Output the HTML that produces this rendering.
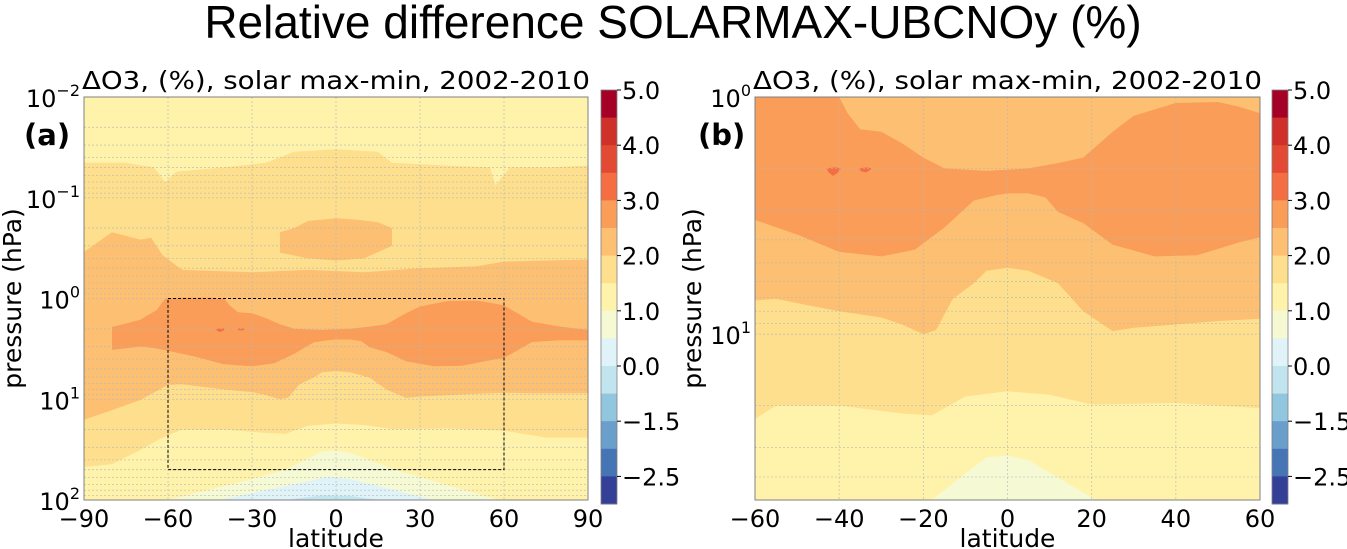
<!DOCTYPE html>
<html><head><meta charset="utf-8">
<style>
html,body{margin:0;padding:0;background:#fff;}
svg{display:block;}
text{font-family:"DejaVu Sans","Liberation Sans",sans-serif;fill:#000;}
</style></head>
<body>
<svg id="fig" width="1347" height="549" viewBox="0 0 1347 549" xmlns="http://www.w3.org/2000/svg">
<text x="673" y="38" text-anchor="middle" style="font-family:'Liberation Sans',sans-serif;font-size:46px;">Relative difference SOLARMAX-UBCNOy (%)</text>
<g id="panelA"></g>
<g id="panelB"></g>
</svg>
<script>
// ---- data: contour band boundaries (latitude in degrees, pressure in hPa) ----
const bandColors = ['#a50026','#d0302a','#e34a33','#f46d43','#f99d59','#fdbf71','#fedf8d','#fff3ac','#f5fad4','#e0f3f8','#c2e4ef','#92c5de','#6a9fcb','#4575b4','#343f98'];
const cbarLabels = ['5.0','4.0','3.0','2.0','1.0','0.0','\u22121.5','\u22122.5'];
const yellowTop = [[-90,0.045],[-75,0.045],[-65,0.05],[-61,0.07],[-57,0.055],[-40,0.05],[-25,0.045],[-15,0.035],[0,0.033],[15,0.035],[20,0.045],[40,0.048],[55,0.05],[57,0.075],[62,0.05],[75,0.05],[90,0.048]];
const yellowBottom = [[-90,47],[-80,44],[-70,32],[-62,24],[-55,20],[-40,20],[-25,21.6],[-18,22],[-10,18.3],[0,17.4],[10,18],[20,19.8],[40,19.5],[60,20.5],[75,24],[90,24]];
const orangeTop = [[-90,0.345],[-80,0.22],[-70,0.26],[-66,0.25],[-62,0.37],[-55,0.52],[-30,0.55],[-10,0.52],[10,0.55],[30,0.5],[50,0.48],[60,0.43],[90,0.41]];
const orangeBottom = [[-90,16],[-80,12.8],[-70,10.2],[-60,7.2],[-55,7.1],[-45,7.7],[-40,8],[-30,8.5],[-25,9.1],[-20,10],[-17,9.6],[-13,7.1],[-8,6.1],[-5,5.4],[0,5.25],[5,5.4],[12,6.1],[18,8],[25,9.7],[30,9.4],[40,9.1],[50,8.8],[60,8.6],[70,8.7],[90,8.7]];
const orangeBlob = [[-20,0.22],[-15,0.2],[-10,0.17],[0,0.16],[8,0.165],[15,0.175],[20,0.2],[20,0.3],[10,0.4],[0,0.42],[-10,0.4],[-20,0.35]];
const darkTop = [[-80,1.92],[-70,1.63],[-64,1.3],[-61,1.0],[-55,0.98],[-45,0.98],[-40,1.0],[-38,1.17],[-35,1.37],[-30,1.4],[-25,1.57],[-20,1.8],[-15,2.0],[-5,2.05],[5,2.0],[12,1.9],[18,1.8],[25,1.4],[30,1.2],[40,1.06],[50,1.05],[55,1.1],[60,1.17],[70,1.7],[80,1.9],[90,2.05]];
const darkBottom = [[-80,3.24],[-70,3.0],[-65,3.1],[-60,3.3],[-50,3.8],[-40,4.5],[-30,4.7],[-22,4.4],[-15,3.55],[-8,2.73],[-3,2.6],[0,2.55],[5,2.55],[9,2.65],[12,3.05],[18,3.4],[25,4.2],[35,4.7],[45,4.65],[55,4.1],[60,3.9],[70,2.7],[80,2.6],[90,2.6]];
const redSpot1 = [[-43,2.0],[-41,1.98],[-39.5,2.0],[-40.5,2.1],[-41.5,2.15],[-42.5,2.08]];
const redSpot2 = [[-35.4,2.0],[-33.5,1.98],[-32.2,2.0],[-33.5,2.08],[-34.7,2.06]];
const paleTri = [[-60,100],[-30,62],[-18,50],[-5,33],[0,32.5],[5,34],[21,50],[35,65],[58,100]];
const cyanTri = [[-42,100],[-15,70],[-3,59],[5,62],[35,100]];
const blueTri = [[-18,100],[-5,90],[5,91],[15,100]];
const boxLat = [-60,60];
const boxP = [1,50];

const NS='http://www.w3.org/2000/svg';
function mk(tag,attrs,parent){const e=document.createElementNS(NS,tag);for(const k in attrs)e.setAttribute(k,attrs[k]);parent.appendChild(e);return e;}

function panel(g,cfg){
  const {x0,x1,y0,y1,lat0,lat1,p0,p1,latTicks,pMajor,label,cbx,id,ylabx,lblx}=cfg;
  const X=lat=>x0+(lat-lat0)/(lat1-lat0)*(x1-x0);
  const Y=p=>y0+(Math.log10(p)-Math.log10(p0))/(Math.log10(p1)-Math.log10(p0))*(y1-y0);
  const defs=mk('defs',{},g);
  const cp=mk('clipPath',{id:'clip'+id},defs);
  mk('rect',{x:x0,y:y0,width:x1-x0,height:y1-y0},cp);
  const plot=mk('g',{'clip-path':'url(#clip'+id+')'},g);
  const bg=mk('rect',{x:x0,y:y0,width:x1-x0,height:y1-y0,fill:bandColors[7]},plot);
  
  
  function band(top,bot,color,name){
    const pts=top.map(d=>X(d[0]).toFixed(1)+','+Y(d[1]).toFixed(1));
    if(bot){for(let i=bot.length-1;i>=0;i--)pts.push(X(bot[i][0]).toFixed(1)+','+Y(bot[i][1]).toFixed(1));}
    const e=mk('polygon',{points:pts.join(' '),fill:color},plot);
    
    
  }
  band(yellowTop,yellowBottom,bandColors[6],'band-1.5-2.0');
  band(orangeTop,orangeBottom,bandColors[5],'band-2.0-2.5');
  band(orangeBlob,null,bandColors[5],'band-2.0-2.5-blob');
  band(darkTop,darkBottom,bandColors[4],'band-2.5-3.0');
  band(redSpot1,null,bandColors[3],'band-3.0-3.5-spot');
  band(redSpot2,null,bandColors[3],'band-3.0-3.5-spot');
  band(paleTri,null,bandColors[8],'band-0.5-1.0');
  band(cyanTri,null,bandColors[9],'band-0.0-0.5');
  band(blueTri,null,bandColors[10],'band-neg-0.5-0.0');
  const grid=mk('g',{stroke:'#b8b8b8','stroke-width':0.8,'stroke-dasharray':'2,2',opacity:0.8},plot);
  
  
  latTicks.forEach(l=>mk('line',{x1:X(l),x2:X(l),y1:y0,y2:y1},grid));
  for(let e=Math.floor(Math.log10(p0));e<=Math.ceil(Math.log10(p1));e++){
    for(let m=1;m<10;m++){const p=m*Math.pow(10,e);if(p>p0&&p<p1)mk('line',{x1:x0,x2:x1,y1:Y(p),y2:Y(p)},grid);}
  }
  if(cfg.box){
    const b=mk('rect',{x:X(boxLat[0]),y:Y(boxP[0]),width:X(boxLat[1])-X(boxLat[0]),height:Y(boxP[1])-Y(boxP[0]),fill:'none',stroke:'#000','stroke-width':1,'stroke-dasharray':'3,2'},g);
    
    
  }
  const fr=mk('rect',{x:x0,y:y0,width:x1-x0,height:y1-y0,fill:'none',stroke:'#808080','stroke-width':1},g);
  
  
  latTicks.forEach(l=>{
    const t=mk('text',{x:X(l),y:y1+27,'text-anchor':'middle','font-size':24},g);
    t.textContent=(l<0?'\u2212':'')+Math.abs(l);
    
    
  });
  const xl=mk('text',{x:(x0+x1)/2,y:y1+47,'text-anchor':'middle','font-size':25},g);
  xl.textContent='latitude';
  
  
  pMajor.forEach(e=>{
    const t=mk('text',{x:x0-4,y:Y(Math.pow(10,e))+10,'text-anchor':'end','font-size':24},g);
    
    
    const a=mk('tspan',{},t);a.textContent='10';
    const s=mk('tspan',{dy:-11,'font-size':16},t);s.textContent=e<0?'\u2212'+Math.abs(e):String(e);
  });
  const yl=mk('text',{x:ylabx,y:(y0+y1)/2,'text-anchor':'middle','font-size':25,transform:'rotate(-90 '+ylabx+' '+((y0+y1)/2)+')'},g);
  yl.textContent='pressure (hPa)';
  
  
  const ti=mk('text',{x:x0-2,y:89,'font-size':25,textLength:(x1-x0)+4,lengthAdjust:'spacingAndGlyphs'},g);
  ti.textContent='\u0394O3, (%), solar max-min, 2002-2010';
  
  
  const pl=mk('text',{x:lblx,y:145,'font-size':29,'font-weight':'bold'},g);
  pl.textContent=label;
  
  
  const cb=mk('g',{},g);
  
  
  const ct=90,chgt=414,bh=chgt/bandColors.length;
  bandColors.forEach((c,i)=>{
    const r=mk('rect',{x:cbx,y:ct+i*bh,width:16,height:bh+0.5,fill:c},cb);
    
    
  });
  mk('rect',{x:cbx,y:ct,width:16,height:chgt,fill:'none',stroke:'#808080','stroke-width':0.8},cb);
  cbarLabels.forEach((s,i)=>{
    const yy=ct+i*2*bh;
    mk('line',{x1:cbx+16,x2:cbx+20,y1:yy,y2:yy,stroke:'#000'},cb);
    const t=mk('text',{x:cbx+21,y:yy+9,'font-size':24},cb);
    t.textContent=s;
    
    
  });
}
panel(document.getElementById('panelA'),{id:'a',x0:84,x1:588,y0:97,y1:500,lat0:-90,lat1:90,p0:0.01,p1:100,latTicks:[-90,-60,-30,0,30,60,90],pMajor:[-2,-1,0,1,2],label:'(a)',cbx:601,ylabx:21,lblx:24,box:true});
panel(document.getElementById('panelB'),{id:'b',x0:755,x1:1260,y0:97,y1:500,lat0:-60,lat1:60,p0:1,p1:50,latTicks:[-60,-40,-20,0,20,40,60],pMajor:[0,1],label:'(b)',cbx:1272,ylabx:701,lblx:698,box:false});
</script>
</body></html>
